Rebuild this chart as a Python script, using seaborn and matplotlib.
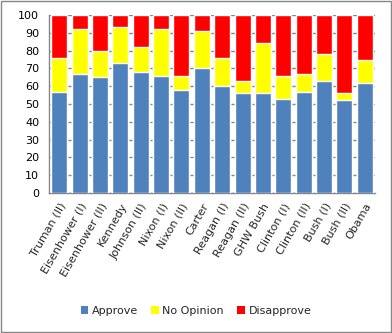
import numpy as np
import pandas as pd
import matplotlib
matplotlib.use("Agg")
import matplotlib.pyplot as plt
from matplotlib.patches import Patch
import seaborn as sns

presidents = ["Truman (II)", "Eisenhower (I)", "Eisenhower (II)", "Kennedy",
              "Johnson (II)", "Nixon (I)", "Nixon (II)", "Carter", "Reagan (I)",
              "Reagan (II)", "GHW Bush", "Clinton (I)", "Clinton (II)", "Bush (I)",
              "Bush (II)", "Obama"]
approve = [57, 67, 65, 73, 68, 66, 58, 70, 60, 56, 56, 53, 57, 63, 52, 62]
no_opinion = [19, 25, 15, 20, 14, 26, 8, 21, 16, 7, 28, 13, 10, 15, 4, 13]
disapprove = [24, 8, 20, 7, 18, 8, 34, 9, 24, 37, 16, 34, 33, 22, 44, 25]

series_names = ["Approve", "No Opinion", "Disapprove"]
series_colors = ["#4F81BD", "#FFFF00", "#FF0000"]

df = pd.DataFrame({"president": presidents, "Approve": approve,
                   "No Opinion": no_opinion, "Disapprove": disapprove})
df["top_noop"] = df["Approve"] + df["No Opinion"]
df["top_dis"] = df["top_noop"] + df["Disapprove"]

sns.set_style("white")
plt.rcParams["font.family"] = ["DejaVu Sans"]

fig = plt.figure(figsize=(3.92, 3.33), dpi=100)
ax = fig.add_axes([49 / 392, 1 - 193 / 333, (375 - 49) / 392, (193 - 15) / 333])

# stacked bars: draw cumulative totals from the top segment down
for col, color in [("top_dis", series_colors[2]), ("top_noop", series_colors[1]),
                   ("Approve", series_colors[0])]:
    sns.barplot(data=df, x="president", y=col, color=color, width=0.78,
                saturation=1, ax=ax, zorder=3)

grid_c = "#868686"
ax.set_ylim(0, 100)
ax.set_xlim(-0.5, len(presidents) - 0.5)
ax.set_yticks(np.arange(0, 101, 10))
ax.yaxis.grid(True, color=grid_c, linewidth=1, zorder=0)
ax.set_axisbelow(True)
ax.set_xlabel("")
ax.set_ylabel("")
for side in ["top", "right"]:
    ax.spines[side].set_visible(False)
for side in ["left", "bottom"]:
    ax.spines[side].set_color(grid_c)
    ax.spines[side].set_linewidth(1)

ax.tick_params(axis="y", labelsize=8, colors="black", length=4, color=grid_c,
               direction="out", pad=3)
ax.set_xticks(range(len(presidents)))
ax.set_xticklabels(presidents, rotation=60, ha="right", rotation_mode="anchor",
                   fontsize=8)
ax.tick_params(axis="x", length=0, pad=6)
ax.set_xticks(np.arange(-0.5, len(presidents), 1), minor=True)
ax.tick_params(axis="x", which="minor", length=4, color=grid_c, direction="out")

handles = [Patch(facecolor=c, edgecolor="none", label=n)
           for n, c in zip(series_names, series_colors)]
fig.legend(handles=handles, loc="center", bbox_to_anchor=(0.5, 1 - 311 / 333),
           ncol=3, frameon=False, fontsize=8, handlelength=0.65, handleheight=0.65,
           handletextpad=0.35, columnspacing=1.2)

# chart border
fig.patches.append(plt.Rectangle((0.002, 0.003), 0.995, 0.993, transform=fig.transFigure,
                                 fill=False, edgecolor="#868686", linewidth=1.0))

fig.savefig("out.png", dpi=100)
